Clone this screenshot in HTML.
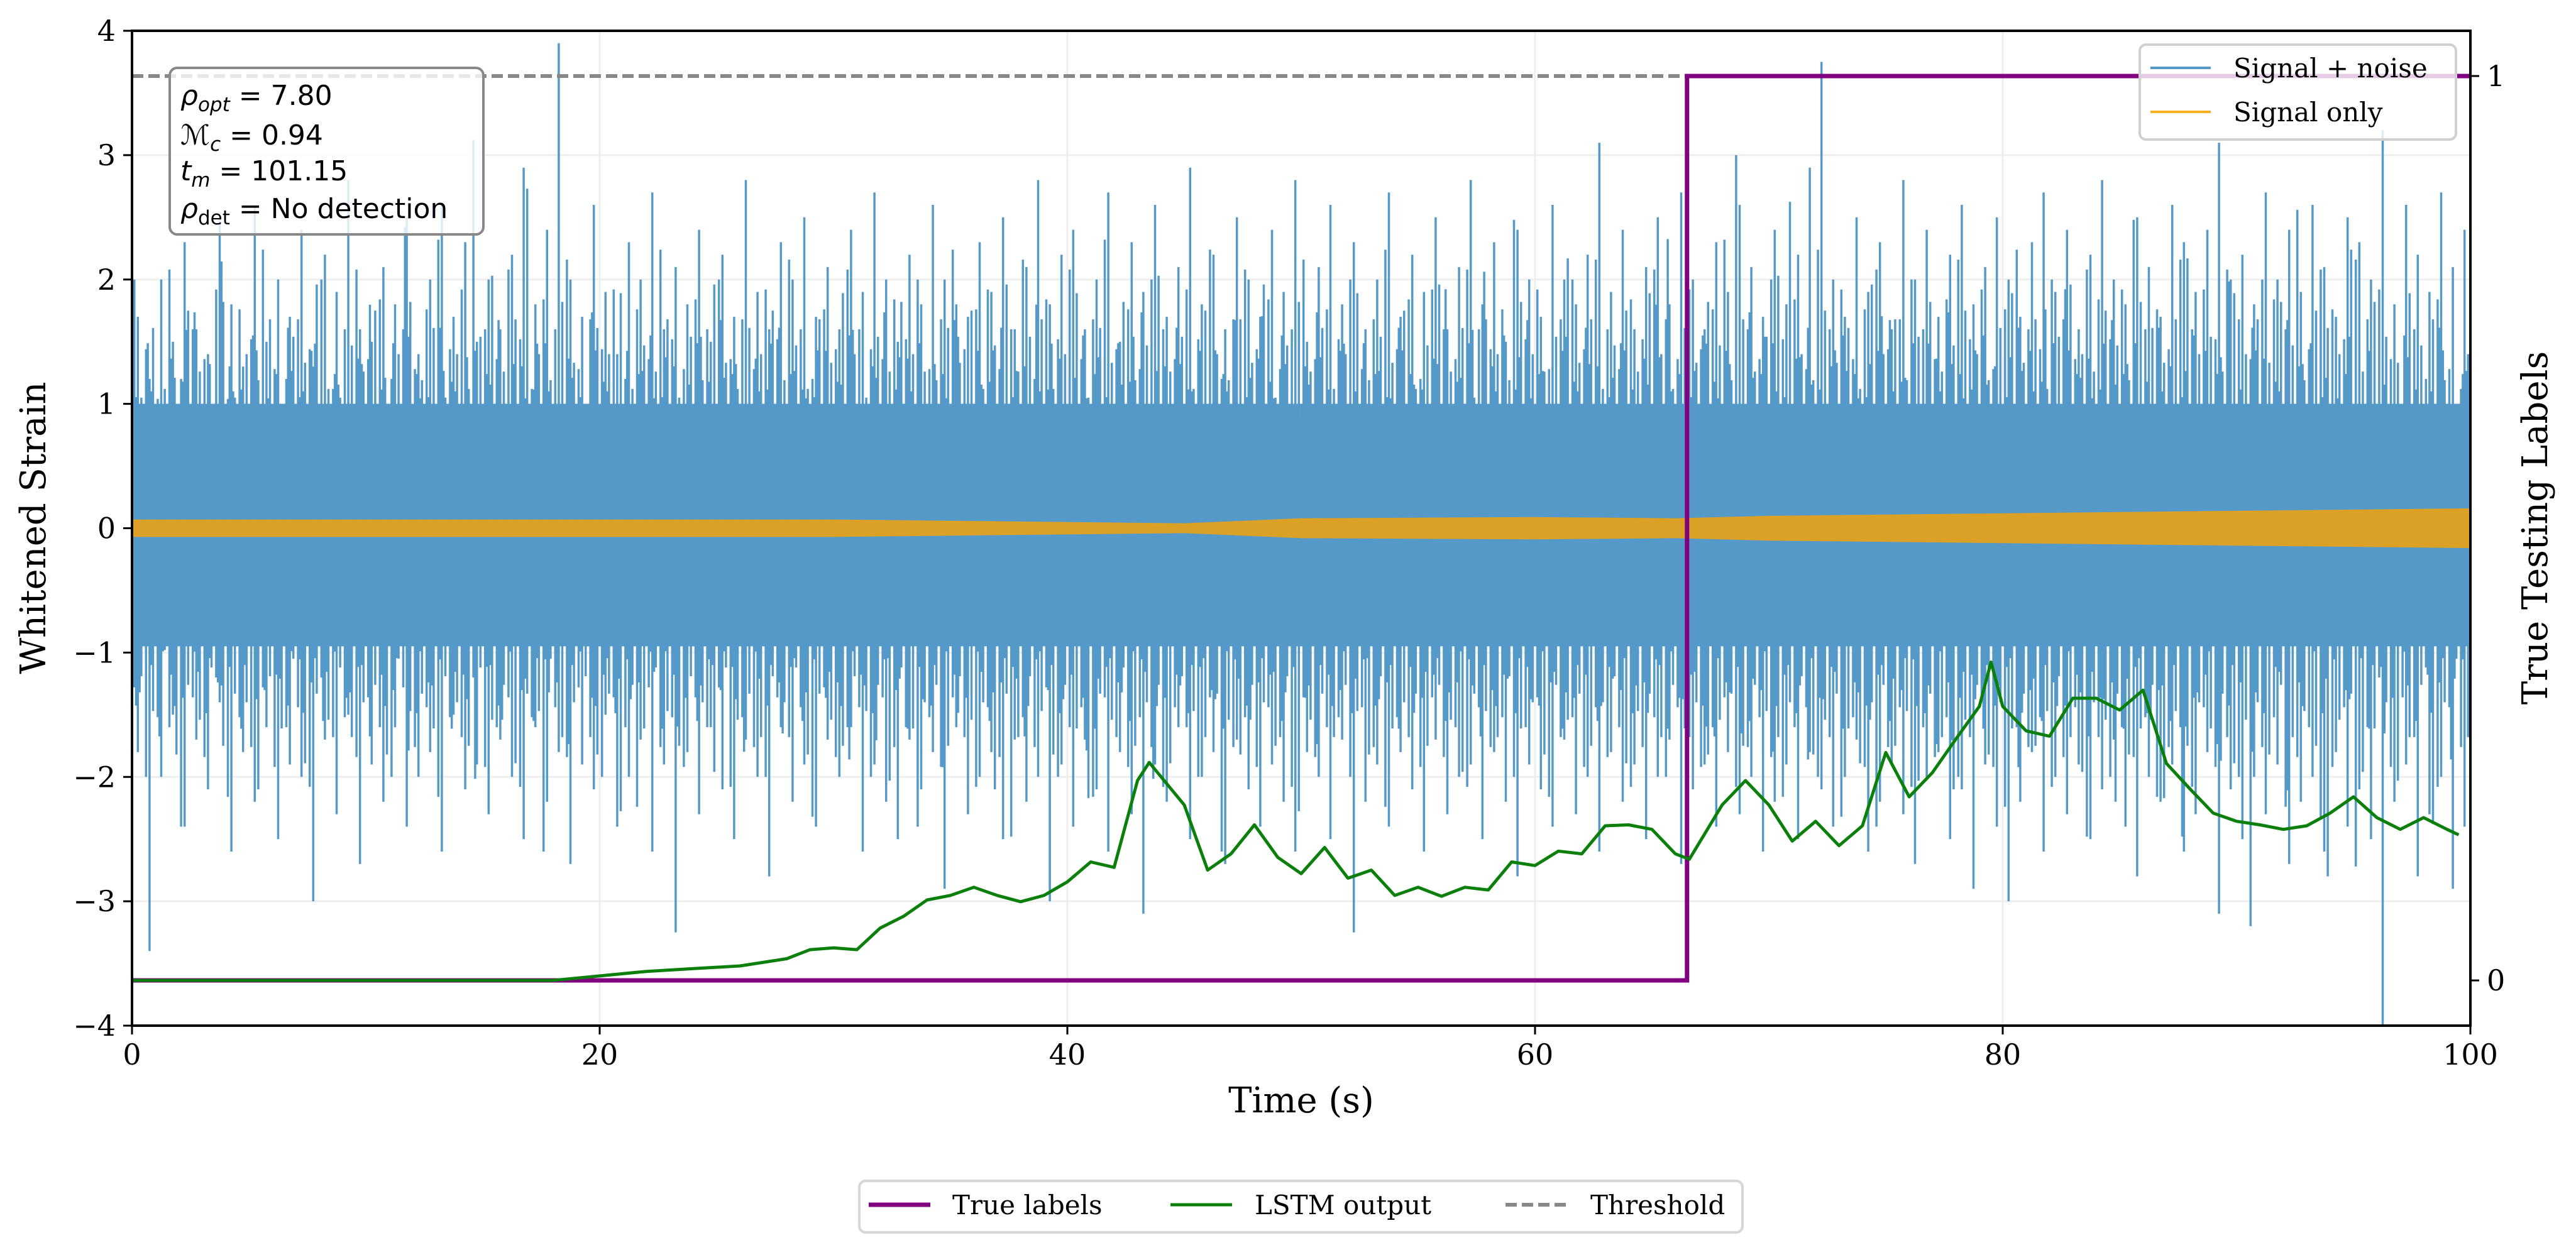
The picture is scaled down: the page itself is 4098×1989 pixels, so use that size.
<!DOCTYPE html>
<html><head><meta charset="utf-8"><style>
html,body{margin:0;padding:0;background:#fff}
svg{display:block}
text{font-family:"DejaVu Serif","Liberation Serif",serif}
</style></head><body>
<svg id="chart" width="4098" height="1989" viewBox="0 0 4098 1989" xmlns="http://www.w3.org/2000/svg">
<g id="grid"></g>
<g id="noise"></g>
<g id="signal"></g>
<g id="over"></g>
<g id="axes"></g>
<g>
<rect x="270" y="108" width="499" height="265" rx="12" fill="#fff" fill-opacity="0.8" stroke="#888" stroke-width="4"/>
<text x="287" y="167" font-size="44" style="font-family:'DejaVu Sans',sans-serif"><tspan font-style="italic">ρ</tspan><tspan font-size="31" dy="10" font-style="italic">opt</tspan><tspan dy="-10"> = 7.80</tspan></text>
<text x="287" y="230" font-size="44" style="font-family:'DejaVu Sans',sans-serif"><tspan font-style="italic">ℳ</tspan><tspan font-size="31" dy="10" font-style="italic">c</tspan><tspan dy="-10"> = 0.94</tspan></text>
<text x="287" y="287" font-size="44" style="font-family:'DejaVu Sans',sans-serif"><tspan font-style="italic">t</tspan><tspan font-size="31" dy="10" font-style="italic">m</tspan><tspan dy="-10"> = 101.15</tspan></text>
<text x="287" y="347" font-size="44" style="font-family:'DejaVu Sans',sans-serif"><tspan font-style="italic">ρ</tspan><tspan font-size="31" dy="10">det</tspan><tspan dy="-10"> = No detection</tspan></text>
</g>
<g>
<rect x="3404" y="71" width="503" height="151" rx="10" fill="#fff" fill-opacity="0.8" stroke="#d0d0d0" stroke-width="4"/>
<g><line x1="3421" y1="108" x2="3517" y2="108" stroke="#5499c7" stroke-width="4"/><text x="3553" y="123" font-size="42">Signal + noise</text></g>
<g><line x1="3421" y1="178" x2="3517" y2="178" stroke="#f5b120" stroke-width="4"/><text x="3553" y="193" font-size="42">Signal only</text></g>
</g>
<g>
<rect x="1367" y="1879" width="1405" height="82" rx="10" fill="#fff" stroke="#d6d6d6" stroke-width="4"/>
<g><line x1="1382" y1="1917" x2="1480" y2="1917" stroke="#800080" stroke-width="7"/><text x="1515" y="1932" font-size="42">True labels</text></g>
<g><line x1="1862" y1="1917" x2="1960" y2="1917" stroke="#0a800a" stroke-width="5"/><text x="1996" y="1932" font-size="42">LSTM output</text></g>
<g><line x1="2395" y1="1917" x2="2493" y2="1917" stroke="#888" stroke-width="6" stroke-dasharray="18,8"/><text x="2530" y="1932" font-size="42">Threshold</text></g>
</g>
<text x="2070" y="1770" font-size="56" text-anchor="middle">Time (s)</text>
<text transform="translate(72,840) rotate(-90)" font-size="56" text-anchor="middle">Whitened Strain</text>
<text transform="translate(4052,840) rotate(-90)" font-size="56" text-anchor="middle">True Testing Labels</text>
</svg>
<script>
const xTicks=[0,20,40,60,80,100];
const yTicks=[-4,-3,-2,-1,0,1,2,3,4];
const rTicks=[0,1];
const noiseUpper=[1.7,1.2,2.0,1.5,2.3,1.6,1.4,2.5,1.8,1.3,
2.6,1.5,2.0,1.7,2.4,1.3,2.2,1.9,2.8,1.6,
1.5,2.1,1.8,2.5,1.4,2.0,2.6,1.7,2.3,1.5,
2.0,1.6,2.2,2.9,1.8,2.4,3.9,2.0,1.7,2.6,
1.9,1.4,2.3,2.0,2.7,1.6,2.1,1.8,2.4,1.5,
2.2,1.7,2.8,1.9,1.6,2.3,2.0,2.5,1.7,2.1,
1.6,2.4,1.9,2.7,2.0,1.5,2.2,1.8,2.6,2.0,
1.8,1.7,2.3,1.9,2.5,1.6,2.1,2.8,1.8,2.2,
2.4,1.6,2.0,2.7,1.5,2.3,1.9,2.6,1.7,2.1,
2.9,1.8,2.2,1.6,2.5,2.0,1.7,2.4,1.9,2.8,
1.5,2.1,2.6,1.8,2.3,1.6,2.0,2.7,1.7,2.2,
1.9,2.5,1.6,2.1,2.8,1.8,2.3,1.5,2.4,2.0,
1.7,2.6,2.0,1.8,2.2,3.1,1.9,2.4,1.6,2.1,
2.5,1.8,2.7,2.0,1.6,2.3,1.9,2.6,2.1,1.7,
2.4,1.8,2.2,2.9,3.75,2.0,1.7,2.5,1.9,2.3,
1.6,2.8,2.0,2.4,1.7,2.2,2.6,1.8,2.1,2.5,
2.0,1.7,2.3,2.7,1.9,2.4,1.6,2.2,2.8,2.0,
1.8,2.5,2.1,1.7,2.6,2.3,1.9,2.4,3.1,2.0,
2.2,1.8,2.7,2.0,2.4,1.9,2.6,2.1,1.7,2.5,
2.3,2.0,3.2,1.8,2.6,2.2,1.9,2.7,2.1,2.4];
const noiseLower=[-1.8,-3.4,-2.0,-1.5,-2.4,-1.7,-2.1,-1.4,-2.6,-1.8,
-2.2,-1.6,-2.5,-1.9,-2.0,-3.0,-1.7,-2.3,-1.5,-2.7,
-1.9,-2.2,-1.6,-2.4,-2.0,-1.8,-2.6,-1.5,-2.1,-1.9,
-2.3,-1.7,-2.0,-2.5,-1.6,-2.2,-1.8,-2.7,-1.9,-2.1,
-1.5,-2.4,-2.0,-1.7,-2.6,-1.9,-3.25,-1.8,-2.3,-1.6,
-2.1,-2.5,-1.7,-2.0,-2.8,-1.6,-2.2,-1.9,-2.4,-1.7,
-2.0,-1.6,-2.6,-1.9,-2.2,-2.5,-1.7,-2.1,-1.8,-2.9,
-1.6,-2.3,-2.0,-1.8,-2.5,-1.7,-2.2,-2.0,-3.0,-1.9,
-2.4,-1.7,-2.1,-2.6,-1.8,-2.3,-3.1,-1.9,-2.2,-1.6,
-2.5,-2.0,-1.8,-2.7,-1.7,-2.1,-2.4,-1.9,-2.2,-2.6,
-1.8,-2.0,-2.5,-1.7,-3.25,-2.2,-1.9,-2.4,-1.8,-2.1,
-2.6,-1.7,-2.3,-2.0,-1.9,-2.5,-1.8,-2.2,-2.8,-1.9,
-2.1,-2.4,-1.7,-2.3,-2.0,-2.6,-1.8,-2.2,-1.9,-2.5,
-2.0,-1.7,-2.7,-2.1,-1.9,-2.4,-1.8,-2.3,-2.0,-2.6,
-2.2,-1.9,-2.5,-1.8,-2.1,-2.4,-2.0,-1.7,-2.6,-2.2,
-1.9,-2.3,-2.7,-2.0,-1.8,-2.5,-2.1,-2.9,-1.9,-2.4,
-3.0,-2.2,-1.8,-2.6,-2.0,-2.3,-1.9,-2.5,-2.1,-1.7,
-2.4,-2.8,-2.0,-2.2,-1.9,-2.6,-2.3,-1.8,-3.1,-2.1,
-2.5,-2.0,-2.3,-1.9,-2.7,-2.2,-2.0,-2.6,-1.8,-2.4,
-2.1,-2.5,-4.0,-2.2,-1.9,-2.8,-2.3,-2.0,-2.9,-2.4];
const signalTimes=[0,10,20,30,40,45,50,60,66,70,80,90,100];
const signalAmp=[0.07,0.07,0.07,0.07,0.05,0.04,0.08,0.09,0.08,0.1,0.12,0.14,0.16];
const lstmTimes=[0,18,20,22,24,26,28,29,30,31,32,33,34,35,36,37,38,39,40,41,42,43,43.5,45,46,47,48,49,50,51,52,53,54,55,56,57,58,59,60,61,62,63,64,65,66,66.6,68,69,70,71,72,73,74,75,76,77,78,79,79.5,80,81,82,83,84,85,86,87,88,89,90,91,92,93,94,95,96,97,98,99,99.5];
const lstmValues=[0,0,0.005,0.01,0.013,0.016,0.024,0.034,0.036,0.034,0.058,0.071,0.089,0.094,0.103,0.094,0.087,0.094,0.109,0.131,0.125,0.221,0.241,0.194,0.122,0.14,0.172,0.136,0.118,0.147,0.113,0.122,0.094,0.103,0.093,0.103,0.1,0.131,0.127,0.143,0.14,0.171,0.172,0.167,0.14,0.134,0.194,0.221,0.194,0.154,0.176,0.149,0.171,0.252,0.203,0.23,0.267,0.303,0.352,0.303,0.276,0.27,0.312,0.312,0.299,0.321,0.24,0.212,0.185,0.176,0.172,0.167,0.171,0.185,0.203,0.18,0.167,0.18,0.167,0.161];
const labelTimes=[0,66.5,66.5,100];
const labelValues=[0,0,1,1];
const thresholdValue=1;

const L=210,R=3930,T=49,B=1632;
const X=t=>L+(t-0)/(100-0)*(R-L);
const Y=v=>T+(4-v)/8*(B-T);
const YR=v=>T+(1.05-v)/1.1*(B-T);
const NS='http://www.w3.org/2000/svg';
function mk(tag,attrs,parent){const e=document.createElementNS(NS,tag);for(const k in attrs)e.setAttribute(k,attrs[k]);parent.appendChild(e);return e;}
const grid=document.getElementById('grid'),axes=document.getElementById('axes'),noise=document.getElementById('noise'),sig=document.getElementById('signal'),over=document.getElementById('over');
xTicks.forEach(t=>{const l=mk('line',{x1:X(t),x2:X(t),y1:T,y2:B,stroke:'#eee','stroke-width':3},grid);


const tk=mk('line',{x1:X(t),x2:X(t),y1:B,y2:B+14,stroke:'#000','stroke-width':3},axes);


const tx=mk('text',{x:X(t),y:B+62,'font-size':46,'text-anchor':'middle'},axes);tx.textContent=t;

});
yTicks.forEach(v=>{const l=mk('line',{x1:L,x2:R,y1:Y(v),y2:Y(v),stroke:'#eee','stroke-width':3},grid);


const tk=mk('line',{x1:L-14,x2:L,y1:Y(v),y2:Y(v),stroke:'#000','stroke-width':3},axes);


const tx=mk('text',{x:L-26,y:Y(v)+16,'font-size':46,'text-anchor':'end'},axes);tx.textContent=v<0?'\u2212'+(-v):v;

});
rTicks.forEach(v=>{const tk=mk('line',{x1:R,x2:R+14,y1:YR(v),y2:YR(v),stroke:'#000','stroke-width':3},axes);


const tx=mk('text',{x:R+26,y:YR(v)+16,'font-size':46},axes);tx.textContent=v;

});
const core=mk('rect',{x:L,y:Y(1.0),width:R-L,height:Y(-0.95)-Y(1.0),fill:'#5499c7'},noise);


let nd='';
const n=noiseUpper.length;
const spikeSets=[[0.5,0,0,1],[0.2,7,11,0.8],[0.8,3,5,0.7],[0.35,13,17,0.62],[0.65,29,23,0.55]];
for(let i=0;i<n;i++){spikeSets.forEach(s=>{const t=(i+s[0])*100/n;
nd+=`M${X(t).toFixed(1)},${Y(noiseUpper[(i+s[1])%n]*s[3]).toFixed(1)}V${Y(noiseLower[(i+s[2])%n]*s[3]).toFixed(1)}`;});}
const np=mk('path',{d:nd,stroke:'#5499c7','stroke-width':3.5,fill:'none'},noise);


let bandTop='',bandBot='';
signalTimes.forEach((t,i)=>{bandTop+=(i?'L':'M')+X(t)+','+Y(signalAmp[i]);});
for(let i=signalTimes.length-1;i>=0;i--)bandBot+='L'+X(signalTimes[i])+','+Y(-signalAmp[i]);
const sp=mk('path',{d:bandTop+bandBot+'Z',fill:'#dba026'},sig);


const th=mk('line',{x1:L,x2:R,y1:YR(thresholdValue),y2:YR(thresholdValue),stroke:'#888','stroke-width':6,'stroke-dasharray':'18,8'},over);


let ld='';labelTimes.forEach((t,i)=>{ld+=(i?'L':'M')+X(t)+','+YR(labelValues[i]);});
const lp=mk('path',{d:ld,stroke:'#800080','stroke-width':7,fill:'none'},over);


let gd='';lstmTimes.forEach((t,i)=>{gd+=(i?'L':'M')+X(t).toFixed(1)+','+YR(lstmValues[i]).toFixed(1);});
const gp=mk('path',{d:gd,stroke:'#0a800a','stroke-width':5,fill:'none','stroke-linejoin':'round'},over);


const fr=mk('rect',{x:L,y:T,width:R-L,height:B-T,fill:'none',stroke:'#000','stroke-width':4},axes);


</script>
</body></html>
